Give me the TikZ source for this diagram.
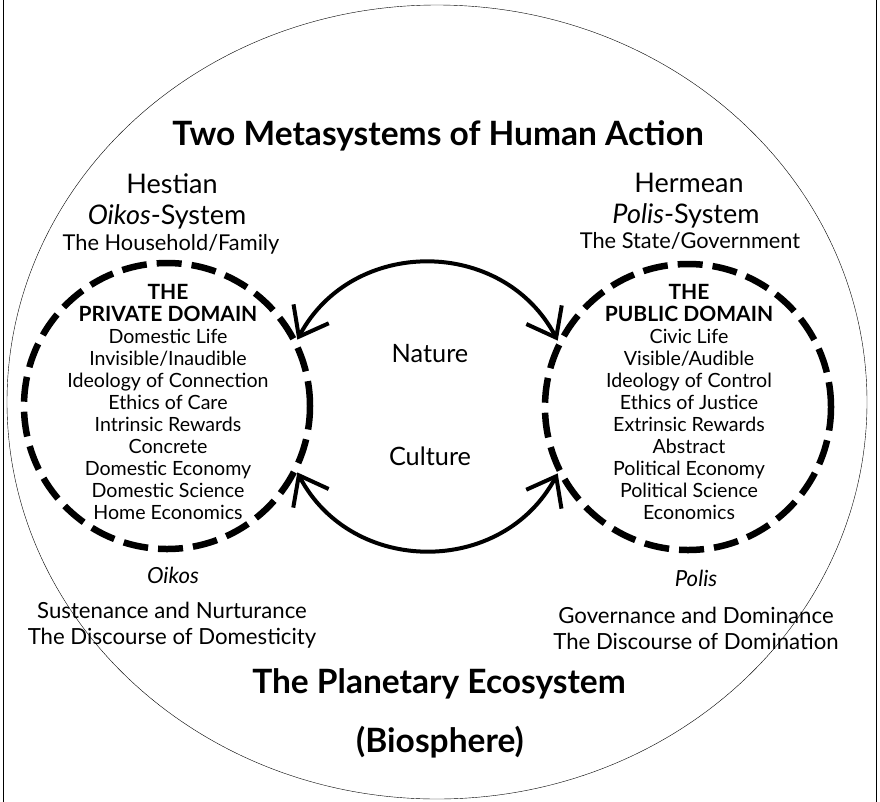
\documentclass[tikz,border=0pt]{standalone}
\usepackage{fontspec}
\setmainfont{Lato}
\usetikzlibrary{positioning,arrows.meta,shapes.geometric}
\tikzset{
  eco/.style={draw, ellipse, thin, minimum width=860pt, minimum height=794pt, inner sep=0pt},
  domainring/.style={draw, circle, line width=6.5pt, dash pattern=on 25pt off 10pt,
    minimum size=286pt, inner sep=0pt},
  domaintext/.style={align=center, inner sep=0pt, font=\fontsize{19.6}{22}\selectfont},
  headline/.style={anchor=base, font=\bfseries\fontsize{33.5}{35}\selectfont},
  sysname/.style={anchor=base, font=\fontsize{27}{29}\selectfont},
  sysfull/.style={anchor=base, font=\fontsize{27}{29}\selectfont},
  sysplace/.style={anchor=base, font=\fontsize{21.8}{23}\selectfont},
  midlabel/.style={anchor=base, font=\fontsize{25.3}{27}\selectfont},
  footlabel/.style={anchor=base, font=\fontsize{22.2}{24}\selectfont},
  flow/.style={line width=4pt, {Straight Barb[length=26pt,width=40pt]}-{Straight Barb[length=26pt,width=40pt]}}
}
\newcommand{\domainhead}[1]{{\bfseries\fontsize{21}{22}\selectfont #1}}

\begin{document}
\begin{tikzpicture}[x=1pt, y=-1pt]
\useasboundingbox (0,0) rectangle (880,801);

% Frame and ecosystem
\draw[thin] (3,-3) rectangle (876,804);
\node[eco] (planet) at (437,402) {};

% Domains
\node[domainring] (priv) at (167,406) {};
\node[domainring] (pub) at (688,407) {};
\node[domaintext] (privtext) at (168,402) {
    \domainhead{THE}\\
    \domainhead{PRIVATE DOMAIN}\\
    Domestic Life\\
    Invisible/Inaudible\\
    Ideology of Connection\\
    Ethics of Care\\
    Intrinsic Rewards\\
    Concrete\\
    Domestic Economy\\
    Domestic Science\\
    Home Economics
};
\node[domaintext] (pubtext) at (689,402) {
    \domainhead{THE}\\
    \domainhead{PUBLIC DOMAIN}\\
    Civic Life\\
    Visible/Audible\\
    Ideology of Control\\
    Ethics of Justice\\
    Extrinsic Rewards\\
    Abstract\\
    Political Economy\\
    Political Science\\
    Economics
};

% Labels
\node[headline] (metasys) at (438,145) {Two Metasystems of Human Action};
\node[sysname] (hestian) at (172,193) {Hestian};
\node[sysfull] (oikossys) at (167,224) {\textit{Oikos}-System};
\node[sysplace] (household) at (171,250) {The Household/Family};
\node[sysname] (hermean) at (689,192) {Hermean};
\node[sysfull] (polissys) at (686,223) {\textit{Polis}-System};
\node[sysplace] (state) at (690,248) {The State/Government};
\node[midlabel] (nature) at (430,362) {Nature};
\node[midlabel] (culture) at (430,465) {Culture};
\node[footlabel] (oikos) at (173,583) {\textit{Oikos}};
\node[footlabel] (sustenance) at (172,618) {Sustenance and Nurturance};
\node[footlabel] (domesticity) at (172,644) {The Discourse of Domesticity};
\node[footlabel] (polis) at (696,586) {\textit{Polis}};
\node[footlabel] (governance) at (696,623) {Governance and Dominance};
\node[footlabel] (domination) at (696,649) {The Discourse of Domination};
\node[headline] (ecosys) at (439,693) {The Planetary Ecosystem};
\node[headline] (biosphere) at (440,752) {(Biosphere)};

%Arrows
\path[flow] (priv.27) edge[bend left=62, looseness=1.15] (pub.153);
\path[flow] (priv.-27) edge[bend right=62, looseness=1.15] (pub.207);

\end{tikzpicture}
\end{document}
